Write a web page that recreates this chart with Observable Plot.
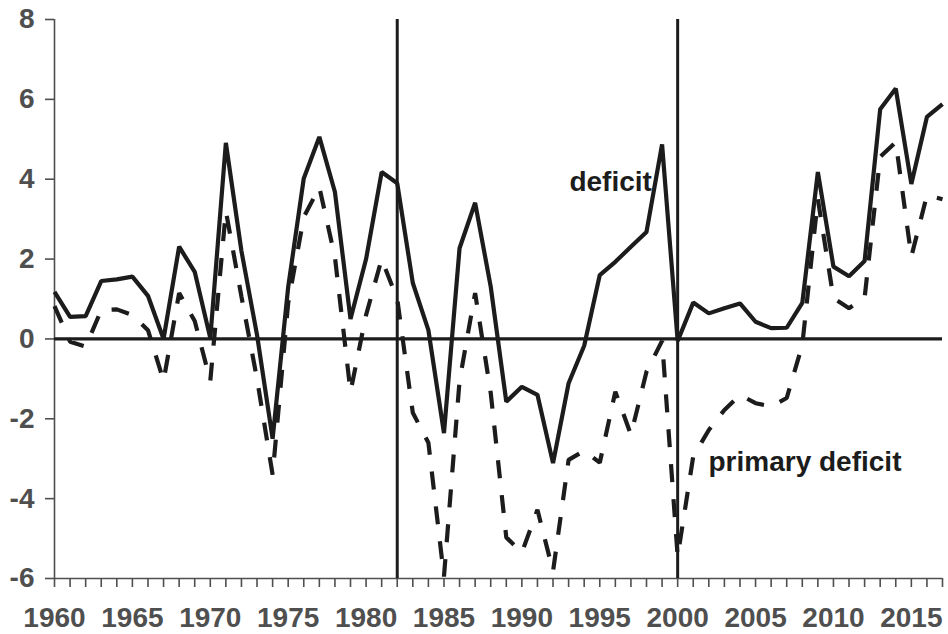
<!DOCTYPE html>
<html>
<head>
<meta charset="utf-8">
<script src="https://cdn.jsdelivr.net/npm/d3@7"></script>
<script src="https://cdn.jsdelivr.net/npm/@observablehq/plot@0.6"></script>
<style>
  html, body { margin: 0; padding: 0; background: #fff; }
  #chart svg { display: block; }
</style>
</head>
<body>
<div id="chart"></div>
<script>
const years = d3.range(1960, 2018);

const deficit = [
  1.18, 0.55, 0.57, 1.45, 1.49, 1.56, 1.08, 0.00, 2.31, 1.68,
  0.02, 4.91, 2.20, 0.10, -2.50, 1.30, 4.02, 5.06, 3.68, 0.50,
  2.00, 4.18, 3.90, 1.40, 0.22, -2.36, 2.27, 3.41, 1.31, -1.57,
  -1.20, -1.40, -3.11, -1.11, -0.17, 1.60, 1.93, 2.31, 2.68, 4.87,
  -0.05, 0.91, 0.64, 0.77, 0.89, 0.43, 0.27, 0.28, 0.90, 4.18,
  1.81, 1.57, 1.95, 5.75, 6.27, 3.88, 5.56, 5.88
];

const primaryDeficit = [
  0.82, -0.07, -0.19, 0.72, 0.74, 0.60, 0.22, -1.05, 1.15, 0.45,
  -1.05, 3.20, 1.06, -1.00, -3.40, 0.90, 3.05, 3.80, 2.05, -1.32,
  0.60, 2.00, 1.00, -1.85, -2.60, -5.95, -1.05, 1.15, -1.35, -4.97,
  -5.35, -4.28, -5.82, -3.03, -2.80, -3.10, -1.32, -2.40, -0.82, -0.05,
  -5.45, -2.94, -2.28, -1.78, -1.40, -1.61, -1.69, -1.48, -0.15, 3.50,
  1.02, 0.77, 1.03, 4.56, 4.93, 2.06, 3.60, 3.50
];

const yTicks = [-6, -4, -2, 0, 2, 4, 6, 8];
const xTicks = years;
const breakYears = [1982, 2000];
const seriesLabels = [
  {year: 1993.05, value: 3.92, text: "deficit"},
  {year: 2001.98, value: -3.08, text: "primary deficit"}
];

const table = years.map((year, i) => ({year, deficit: deficit[i], primary: primaryDeficit[i]}));

const font = "'Liberation Sans', Arial, Helvetica, sans-serif";
const ink = "#1c1c1c";
const axisGray = "#4f4f4f";

const chart = Plot.plot({
  width: 948,
  height: 634,
  marginTop: 19,
  marginBottom: 56,
  marginLeft: 54,
  marginRight: 6,
  style: {fontFamily: font, background: "#fff", overflow: "visible"},
  x: {domain: [1960, 2017], axis: null},
  y: {domain: [-6, 8], axis: null},
  marks: [
    // axis lines
    Plot.ruleX([1960], {y1: -6, y2: 8, stroke: axisGray, strokeWidth: 1.6}),
    Plot.ruleY([-6], {x1: 1960, x2: 2017, stroke: axisGray, strokeWidth: 1.6}),
    Plot.axisY(yTicks, {
      label: null, tickSize: 9, tickPadding: 11, fontSize: 28, fontWeight: "bold",
      color: axisGray, strokeWidth: 1.6, tickFormat: d => String(d)
    }),
    Plot.axisX(xTicks, {
      label: null, tickSize: 9, tickPadding: 20, fontSize: 28, fontWeight: "bold",
      color: axisGray, strokeWidth: 1.6,
      tickFormat: d => (d % 5 === 0 ? String(d) : "")
    }),
    // reference lines
    Plot.ruleY([0], {x1: 1960, x2: 2017, stroke: ink, strokeWidth: 3.2}),
    Plot.ruleX(breakYears, {y1: -6, y2: 8, stroke: ink, strokeWidth: 3}),
    // series
    Plot.line(table, {
      x: "year", y: "primary", stroke: ink, strokeWidth: 4.2,
      strokeDasharray: "18,17", strokeLinecap: "butt", strokeLinejoin: "miter"
    }),
    Plot.line(table, {
      x: "year", y: "deficit", stroke: ink, strokeWidth: 4.2,
      strokeLinecap: "butt", strokeLinejoin: "miter"
    }),
    Plot.text(seriesLabels, {
      x: "year", y: "value", text: "text", textAnchor: "start",
      fontSize: 28, fontWeight: "bold", fill: ink
    })
  ]
});

document.getElementById("chart").appendChild(chart);
</script>
</body>
</html>
